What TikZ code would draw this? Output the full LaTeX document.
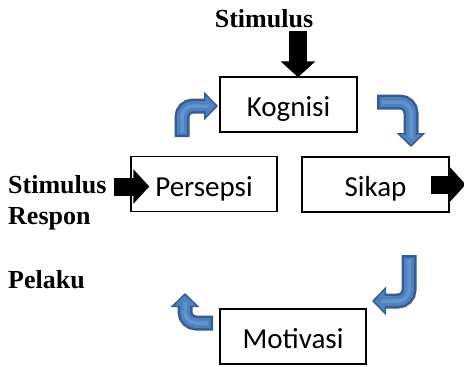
\documentclass[tikz,border=0pt]{standalone}
\usepackage{fontspec}
\setmainfont{Liberation Serif}
\newfontfamily\calibri{Carlito}
\usetikzlibrary{arrows.meta}
\definecolor{bluedark}{RGB}{56,93,138}
\definecolor{bluefill}{RGB}{79,129,189}
\definecolor{bluelight}{RGB}{98,148,208}

\begin{document}
\begin{tikzpicture}[x=1pt,y=-1pt,
  box node/.style={draw,line width=1.5pt,minimum width=146pt,minimum height=55pt,
    text height=24pt,text depth=0pt,inner sep=0pt,font=\calibri\fontsize{29}{34}\selectfont},
  label node/.style={inner sep=0pt,font=\bfseries\fontsize{26}{30}\selectfont},
  block arrow/.style={line width=18pt,-{Triangle[width=34pt,length=16pt]}},
  bent outer/.style={line width=15pt,draw=bluedark,rounded corners=11pt,-{Triangle[width=28pt,length=14pt]}},
  bent inner/.style={line width=10pt,draw=bluefill,rounded corners=11pt,shorten <=2.5pt,shorten >=2.5pt,
    -{Triangle[width=21pt,length=10pt]}},
  bent light/.style={line width=3.5pt,draw=bluelight,rounded corners=11pt,shorten <=5pt,shorten >=9pt}]
  \useasboundingbox (0,0) rectangle (464,367);

  \node[box node,minimum width=137pt] (kognisi) at (288.5,104.5) {Kognisi};
  \node[box node] (persepsi) at (204,184) {Persepsi};
  \node[box node,minimum width=147pt] (sikap) at (375.5,184.5) {Sikap};
  \node[box node] (motivasi) at (293,336.5) {Motivasi};

  \node[label node,anchor=base] (stimulus) at (264,27) {Stimulus};
  \node[label node,anchor=base west] (stimulus left) at (8,193) {Stimulus};
  \node[label node,anchor=base west] (respon) at (8,224) {Respon};
  \node[label node,anchor=base west] (pelaku) at (8,288) {Pelaku};

  \draw[block arrow] ([xshift=9.5pt,yshift=45pt]kognisi.north) -- ([xshift=9.5pt,yshift=-1pt]kognisi.north);
  \draw[block arrow] ([xshift=-16pt,yshift=-2.5pt]persepsi.west) -- ([xshift=19pt,yshift=-2.5pt]persepsi.west);
  \draw[block arrow] ([xshift=-19pt]sikap.east) -- ([xshift=16pt]sikap.east);

  \coordinate (p out) at (182,137);
  \coordinate (k in) at (218,106);
  \coordinate (k out) at (377,102);
  \coordinate (s in) at (411,147);
  \coordinate (s out) at (409,255);
  \coordinate (m in) at (372,301);
  \coordinate (m out) at (213,323);
  \coordinate (p in) at (185,293);

  \draw[bent outer] (p out) |- (k in);
  \draw[bent inner] (p out) |- (k in);
  \draw[bent light] (p out) |- (k in);
  \draw[bent outer] (k out) -| (s in);
  \draw[bent inner] (k out) -| (s in);
  \draw[bent light] (k out) -| (s in);
  \draw[bent outer] (s out) |- (m in);
  \draw[bent inner] (s out) |- (m in);
  \draw[bent light] (s out) |- (m in);
  \draw[bent outer] (m out) -| (p in);
  \draw[bent inner] (m out) -| (p in);
  \draw[bent light] (m out) -| (p in);
\end{tikzpicture}
\end{document}
